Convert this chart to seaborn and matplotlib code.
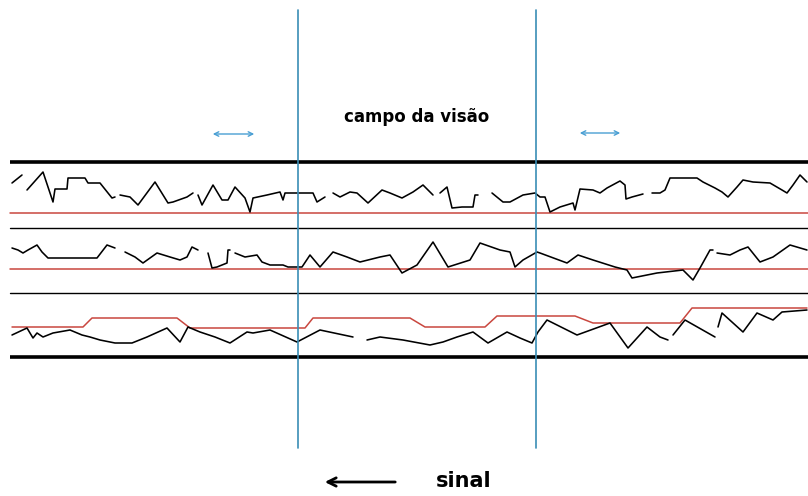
import numpy as np
import pandas as pd
import matplotlib
matplotlib.use("Agg")
import matplotlib.pyplot as plt
import seaborn as sns

# pixel coordinates of the hand drawn scheme, None = gap in the trace
sig1_x = [12, 22, None, 27, 43, 53, 55, 67, 68, 85, 88, 100, 112, 115, None, 120, 130, 138, 155, 168, 173,
          187, 193, None, 198, 202, 213, 222, 228, 235, 245, 250, 253, 267, 280, 283, 285, 297, 313, 317,
          325, None, 333, 340, 350, 357, 368, 382, 390, 402, 413, 423, 433, None, 440, 447, 452, 462, 473,
          475, 478, None, 492, 503, 510, 523, 535, 540, 545, 550, 560, 573, 575, 580, 593, 600, 607, 620,
          625, 626, 632, 643, None, 652, 660, 665, 670, 697, 703, 715, 722, 728, 737, 743, 753, 770, 782,
          787, 793, 800, 807]
sig1_y = [183, 175, None, 190, 172, 202, 189, 189, 178, 178, 183, 183, 198, 197, None, 195, 197, 205, 182, 203, 202,
          197, 193, None, 195, 205, 185, 200, 200, 187, 198, 212, 198, 195, 192, 200, 193, 193, 193, 202,
          197, None, 193, 197, 192, 193, 203, 190, 193, 198, 192, 185, 195, None, 193, 187, 208, 207, 207,
          195, 195, None, 193, 202, 202, 195, 193, 197, 197, 212, 207, 203, 210, 189, 190, 193, 188, 181,
          185, 199, 197, 194, None, 193, 193, 190, 178, 178, 182, 188, 192, 197, 187, 180, 182, 183, 190,
          193, 185, 175, 182]

sig2_x = [12, 18, 23, 28, 37, 42, 48, 97, 107, 115, None, 125, 135, 143, 157, 170, 180, 187, 192, 198, None,
          208, 212, 217, 227, 228, 230, None, 235, 245, 257, 262, 270, 283, 288, 302, 310, 320, 333, 347,
          360, 380, 390, 402, 417, 433, 448, 470, 480, 500, 510, 515, 523, 537, 540, 567, 578, 593, 615,
          627, 632, 657, 683, 693, 700, 710, 713, None, 717, 730, 740, 748, 760, 773, 790, 807]
sig2_y = [248, 250, 253, 250, 245, 252, 258, 258, 245, 248, None, 252, 257, 263, 253, 257, 260, 257, 247, 250, None,
          253, 268, 267, 263, 250, 250, None, 253, 257, 255, 262, 265, 265, 267, 267, 255, 267, 252, 257,
          262, 257, 255, 273, 265, 242, 267, 260, 243, 250, 252, 267, 260, 252, 253, 263, 255, 260, 267,
          270, 278, 273, 270, 280, 268, 250, 250, None, 253, 255, 250, 247, 262, 257, 245, 250]

sig3_x = [12, 27, 33, 37, 43, 53, 70, 82, 90, 100, 115, 132, 147, 167, 180, 188, 200, 215, 230, 247, 253,
          270, 297, 320, 353, None, 367, 380, 403, 430, 443, 457, 473, 488, 507, 520, 532, 538, 547, 577,
          610, 628, 647, 660, 668, None, 673, 685, 715, None, 718, 722, 743, 757, 773, 782, 807]
sig3_y = [335, 328, 338, 333, 337, 333, 330, 335, 337, 340, 343, 343, 337, 328, 342, 327, 332, 337, 343, 332, 333,
          330, 342, 330, 337, None, 340, 337, 340, 345, 342, 337, 332, 343, 332, 338, 343, 332, 320, 335,
          323, 348, 327, 337, 340, None, 335, 320, 337, None, 327, 313, 332, 313, 320, 312, 310]

ref3_x = [12, 83, 92, 177, 190, 305, 313, 410, 425, 485, 497, 575, 593, 680, 692, 807]
ref3_y = [327, 327, 318, 318, 328, 328, 318, 318, 327, 327, 316, 316, 323, 323, 308, 308]

ref_levels = [213, 269]
thick_levels = [162, 357]
thin_levels = [228, 293]
view_edges = [298, 536]


def to_frame(xs, ys):
    seg, rows = 0, []
    for x, y in zip(xs, ys):
        if x is None:
            seg += 1
            continue
        rows.append((x, y, seg))
    return pd.DataFrame(rows, columns=["x", "y", "seg"])


sns.set_style("white")
fig = plt.figure(figsize=(8.08, 4.96), dpi=100)
ax = fig.add_axes([0, 0, 1, 1])

for lv in thick_levels:
    ax.plot([10, 808], [lv, lv], color="black", lw=2.6, solid_capstyle="butt")
for lv in thin_levels:
    ax.plot([10, 808], [lv, lv], color="black", lw=1.0)
for lv in ref_levels:
    ax.plot([10, 808], [lv, lv], color="#c9473f", lw=1.1)

sns.lineplot(data=to_frame(ref3_x, ref3_y), x="x", y="y", units="seg", estimator=None,
             sort=False, color="#c9473f", lw=1.1, ax=ax)
for xs, ys in [(sig1_x, sig1_y), (sig2_x, sig2_y), (sig3_x, sig3_y)]:
    sns.lineplot(data=to_frame(xs, ys), x="x", y="y", units="seg", estimator=None,
                 sort=False, color="black", lw=1.15, ax=ax)

for vx in view_edges:
    ax.plot([vx, vx], [10, 448], color="#3a8db5", lw=1.2)

for x0, x1, yy in [(210, 257, 134), (577, 623, 133)]:
    ax.annotate("", xy=(x0, yy), xytext=(x1, yy),
                arrowprops=dict(arrowstyle="<->", color="#4a9fd3", lw=1.0, mutation_scale=8))

ax.text(417, 117, "campo da visão", ha="center", va="center", fontsize=12,
        fontweight="bold", color="black")
ax.annotate("", xy=(322, 482), xytext=(398, 482),
            arrowprops=dict(arrowstyle="->", color="black", lw=2.0, mutation_scale=15))
ax.text(436, 481, "sinal", ha="left", va="center", fontsize=15, fontweight="bold",
        color="black")

ax.set_xlim(0, 808)
ax.set_ylim(496, 0)
ax.axis("off")
fig.savefig("out.png", dpi=100)
